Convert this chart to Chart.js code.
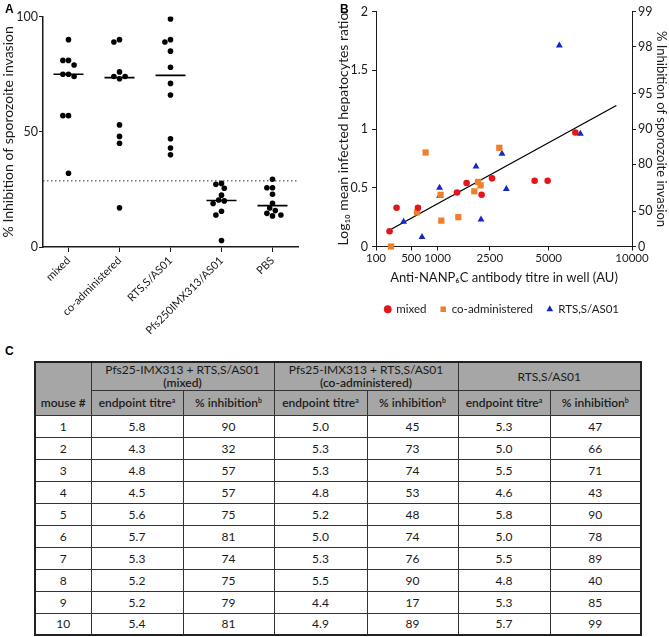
<!DOCTYPE html>
<html>
<head>
<meta charset="utf-8">
<script src="https://cdn.jsdelivr.net/npm/chart.js@4.4.1/dist/chart.umd.min.js"></script>
<style>
body { margin: 0; background: #fff; }
#wrap { position: relative; width: 669px; height: 637px; font-family: Lato, "Open Sans", sans-serif; color: #1a1a1a; }
.lbl { position: absolute; font: bold 12px "Liberation Sans", Arial, sans-serif; color: #000; }
#cA { position: absolute; left: 0; top: 0; }
#cB { position: absolute; left: 335px; top: 0; }
#tbl { position: absolute; left: 34px; top: 361px; width: 606px; border-collapse: collapse; table-layout: fixed; border: 2px solid #222; font-size: 12px; }
#tbl td, #tbl th { border: 1px solid #333; text-align: center; padding: 0; }
#tbl th { background: #a6a6a6; color: #1a1a1a; }
#tbl .g { font-weight: normal; line-height: 13px; }
#tbl .g b { font-weight: 600; }
#tbl .h { font-weight: 600; }
#tbl sup { font-size: 7px; vertical-align: 4px; line-height: 0; }
#tbl tr.r1 { height: 28px; }
#tbl tr.r2 { height: 25px; }
#tbl tbody tr { height: 22px; }
</style>
</head>
<body>
<div id="wrap">
  <canvas id="cA" width="330" height="340"></canvas>
  <canvas id="cB" width="334" height="325"></canvas>
  <div class="lbl" style="left:5px;top:2px">A</div>
  <div class="lbl" style="left:340px;top:2px">B</div>
  <div class="lbl" style="left:5px;top:344px">C</div>
  <table id="tbl"></table>
</div>
<script>
// panel A: % inhibition per group
const groupNames = ['mixed', 'co-administered', 'RTS,S/AS01', 'Pfs250IMX313/AS01', 'PBS'];
const mixedInhib = [90, 32, 57, 57, 75, 81, 74, 75, 79, 81];
const coInhib = [45, 73, 74, 53, 48, 74, 76, 90, 17, 89];
const rtsInhib = [47, 66, 71, 43, 90, 78, 89, 40, 85, 99];
const pfs25Inhib = [27.6, 27.2, 25.5, 22.5, 20.4, 20.0, 18.9, 15.5, 13.9, 2.8];
const pbsInhib = [29.4, 25.7, 25.7, 22.9, 19.0, 16.9, 15.8, 14.6, 13.9, 13.5];
const cutoff = [28.7];
const inhibTicks = [0, 50, 100];

// panel B: titre vs log10 ratio
const mixedTitre = [218, 297, 613, 1481, 1752, 2221, 2580, 4326, 4948, 6413];
const mixedRatio = [0.13, 0.33, 0.33, 0.46, 0.54, 0.44, 0.58, 0.56, 0.56, 0.97];
const coTitre = [233, 596, 753, 1070, 1086, 1516, 1986, 2103, 2188, 2847];
const coRatio = [0.0, 0.29, 0.80, 0.44, 0.22, 0.25, 0.47, 0.55, 0.52, 0.84];
const rtsTitre = [388, 685, 1047, 1047, 2039, 2202, 2948, 3116, 5543, 6698];
const rtsRatio = [0.21, 0.08, 0.50, 0.43, 0.68, 0.23, 0.79, 0.49, 1.71, 0.96];
const fitTitre = [220, 8930];
const fitRatio = [0.14, 1.20];
const titreTicks = [100, 500, 1000, 2500, 5000, 10000];
const ratioTicks = [0, 0.5, 1, 1.5, 2];
const pctTicks = [0, 50, 80, 90, 95, 98, 99];

// panel C: table
const mouseIds = [1, 2, 3, 4, 5, 6, 7, 8, 9, 10];
const tMixedTitre = [5.8, 4.3, 4.8, 4.5, 5.6, 5.7, 5.3, 5.2, 5.2, 5.4];
const tCoTitre = [5.0, 5.3, 5.3, 4.8, 5.2, 5.0, 5.3, 5.5, 4.4, 4.9];
const tRtsTitre = [5.3, 5.0, 5.5, 4.6, 5.8, 5.0, 5.5, 4.8, 5.3, 5.7];

const FONT = 'Lato, "Open Sans", sans-serif';
const INK = '#1a1a1a';

function median(a) {
  const s = [...a].sort((p, q) => p - q);
  const m = s.length >> 1;
  return s.length % 2 ? s[m] : (s[m - 1] + s[m]) / 2;
}

// simple beeswarm so dots with close values sit side by side
function swarm(values, cat) {
  const yPx = 2.4, xPx = 51, gap = 5.6;
  const placed = [];
  const order = values.map((v, i) => i).sort((a, b) => values[b] - values[a]);
  order.forEach(i => {
    const v = values[i];
    let off = 0;
    for (let k = 0; k < 30; k++) {
      const cand = (k % 2 ? -1 : 1) * Math.ceil(k / 2) * gap / 2;
      if (placed.every(p => Math.hypot(p.dx - cand, (p.y - v) * yPx) >= gap - 0.01)) { off = cand; break; }
    }
    placed.push({dx: off, y: v});
  });
  return placed.map(p => ({x: cat + p.dx / xPx, y: p.y}));
}

const xy = (xs, ys) => xs.map((x, i) => ({x: x, y: ys[i]}));

// square-root axis for the titre
class SqrtScale extends Chart.LinearScale {
  buildTicks() { return titreTicks.map(v => ({value: v})); }
  getPixelForValue(v) {
    const a = Math.sqrt(this.min), b = Math.sqrt(this.max);
    return this.getPixelForDecimal((Math.sqrt(v) - a) / (b - a));
  }
  getValueForPixel(p) {
    const a = Math.sqrt(this.min), b = Math.sqrt(this.max);
    const s = a + this.getDecimalForPixel(p) * (b - a);
    return s * s;
  }
}
SqrtScale.id = 'sqrt';
SqrtScale.defaults = {};
Chart.register(SqrtScale);

// ---- A ----
const groupsA = [mixedInhib, coInhib, rtsInhib, pfs25Inhib, pbsInhib];
const dsA = groupsA.map((vals, i) => ({
  data: swarm(vals, i),
  pointRadius: 2.8,
  pointBackgroundColor: '#000',
  pointBorderColor: '#000',
  pointBorderWidth: 0
}));
dsA.push({
  data: groupsA.map((v, i) => ({x: i, y: median(v)})),
  pointStyle: 'line', pointRadius: 15, pointBorderColor: '#000', pointBorderWidth: 1.6
});
dsA.push({
  type: 'line',
  data: [{x: -0.5, y: cutoff[0]}, {x: 4.5, y: cutoff[0]}],
  borderColor: '#333', borderWidth: 1, borderDash: [1.5, 2.5], pointRadius: 0
});

new Chart(document.getElementById('cA'), {
  type: 'scatter',
  data: {datasets: dsA},
  options: {
    responsive: false,
    animation: false,
    layout: {padding: {top: 7, right: 32, left: 0, bottom: 0}},
    plugins: {legend: {display: false}, tooltip: {enabled: false}},
    scales: {
      x: {
        type: 'linear', min: -0.5, max: 4.5,
        afterBuildTicks: s => { s.ticks = groupNames.map((n, i) => ({value: i})); },
        afterFit: s => { s.height = 93; },
        grid: {drawOnChartArea: false, color: INK, tickLength: 5},
        border: {color: INK, width: 1.5},
        ticks: {minRotation: 45, maxRotation: 45, autoSkip: false, padding: 2, color: INK,
          font: {family: FONT, size: 11}, callback: v => groupNames[v]}
      },
      y: {
        min: 0, max: 100,
        afterBuildTicks: s => { s.ticks = inhibTicks.map(v => ({value: v})); },
        afterFit: s => { s.width = 43; },
        grid: {drawOnChartArea: false, color: INK, tickLength: 4},
        border: {color: INK, width: 1.5},
        ticks: {padding: 1, color: INK, font: {family: FONT, size: 12.5}},
        title: {display: true, text: '% Inhibition of sporozoite invasion', color: INK,
          font: {family: FONT, size: 14}, padding: 0}
      }
    }
  }
});

// ---- B ----
new Chart(document.getElementById('cB'), {
  type: 'scatter',
  data: {
    datasets: [
      {label: 'mixed', data: xy(mixedTitre, mixedRatio), pointStyle: 'circle', pointRadius: 3.3,
        backgroundColor: '#e5151c', borderColor: '#e5151c', borderWidth: 0, clip: false},
      {label: 'co-administered', data: xy(coTitre, coRatio), pointStyle: 'rect', pointRadius: 4.4,
        backgroundColor: '#f07f2a', borderColor: '#f07f2a', borderWidth: 0, clip: false},
      {label: 'RTS,S/AS01', data: xy(rtsTitre, rtsRatio), pointStyle: 'triangle', pointRadius: 4,
        backgroundColor: '#1528c2', borderColor: '#1528c2', borderWidth: 0, clip: false},
      {label: 'fit', type: 'line', data: xy(fitTitre, fitRatio), borderColor: '#000', borderWidth: 1.3,
        pointRadius: 0}
    ]
  },
  options: {
    responsive: false,
    animation: false,
    layout: {padding: {top: 5, right: 0, left: 0, bottom: 0}},
    plugins: {
      tooltip: {enabled: false},
      legend: {
        position: 'bottom',
        labels: {usePointStyle: true, boxWidth: 5.5, boxHeight: 5.5, padding: 14, color: INK,
          font: {family: FONT, size: 11.5}, filter: it => it.datasetIndex < 3}
      }
    },
    scales: {
      x: {
        type: 'sqrt', min: 100, max: 10000,
        afterFit: s => { s.height = 43; },
        grid: {drawOnChartArea: false, color: INK, tickLength: 4},
        border: {color: INK, width: 1},
        ticks: {padding: 1, color: INK, font: {family: FONT, size: 11.5}, callback: v => String(v)},
        title: {display: true, text: 'Anti-NANP\u2086C antibody titre in well (AU)', color: INK,
          font: {family: FONT, size: 13}, padding: {top: 4}}
      },
      y: {
        position: 'left', min: 0, max: 2,
        afterBuildTicks: s => { s.ticks = ratioTicks.map(v => ({value: v})); },
        afterFit: s => { s.width = 41; },
        grid: {drawOnChartArea: false, color: INK, tickLength: 4},
        border: {color: INK, width: 1},
        ticks: {padding: 4, color: INK, font: {family: FONT, size: 12.5}, callback: v => String(v)},
        title: {display: true, text: 'Log\u2081\u2080 mean infected hepatocytes ratio', color: INK,
          font: {family: FONT, size: 14}, padding: 0}
      },
      y2: {
        position: 'right', min: 0, max: 2,
        afterBuildTicks: s => { s.ticks = pctTicks.map(p => ({value: -Math.log10(1 - p / 100)})); },
        afterFit: s => { s.width = 37; },
        grid: {drawOnChartArea: false, color: INK, tickLength: 4},
        border: {color: INK, width: 1},
        ticks: {padding: 2, color: INK, font: {family: FONT, size: 12.5}, callback: (v, i) => String(pctTicks[i])},
        title: {display: true, text: '% Inhibition of sporozoite invasion', color: INK,
          font: {family: FONT, size: 13}, padding: 0}
      }
    }
  }
});

// ---- C ----
let html = '<colgroup><col style="width:56px"><col style="width:92px"><col style="width:91px">' +
  '<col style="width:93px"><col style="width:91px"><col style="width:92px"><col style="width:91px"></colgroup>';
html += '<thead><tr class="r1"><th rowspan="2" class="h" style="vertical-align:bottom;padding-bottom:5px">mouse #</th>' +
  '<th colspan="2" class="g">Pfs25-IMX313 + RTS,S/AS01<br><b>(mixed)</b></th>' +
  '<th colspan="2" class="g">Pfs25-IMX313 + RTS,S/AS01<br><b>(co-administered)</b></th>' +
  '<th colspan="2" class="g">RTS,S/AS01</th></tr>';
html += '<tr class="r2">';
for (let k = 0; k < 3; k++) {
  html += '<th class="h">endpoint titre<sup>a</sup></th><th class="h">% inhibition<sup>b</sup></th>';
}
html += '</tr></thead><tbody>';
mouseIds.forEach((m, i) => {
  html += '<tr><td>' + m + '</td><td>' + tMixedTitre[i].toFixed(1) + '</td><td>' + mixedInhib[i] +
    '</td><td>' + tCoTitre[i].toFixed(1) + '</td><td>' + coInhib[i] +
    '</td><td>' + tRtsTitre[i].toFixed(1) + '</td><td>' + rtsInhib[i] + '</td></tr>';
});
html += '</tbody>';
document.getElementById('tbl').innerHTML = html;
</script>
</body>
</html>
